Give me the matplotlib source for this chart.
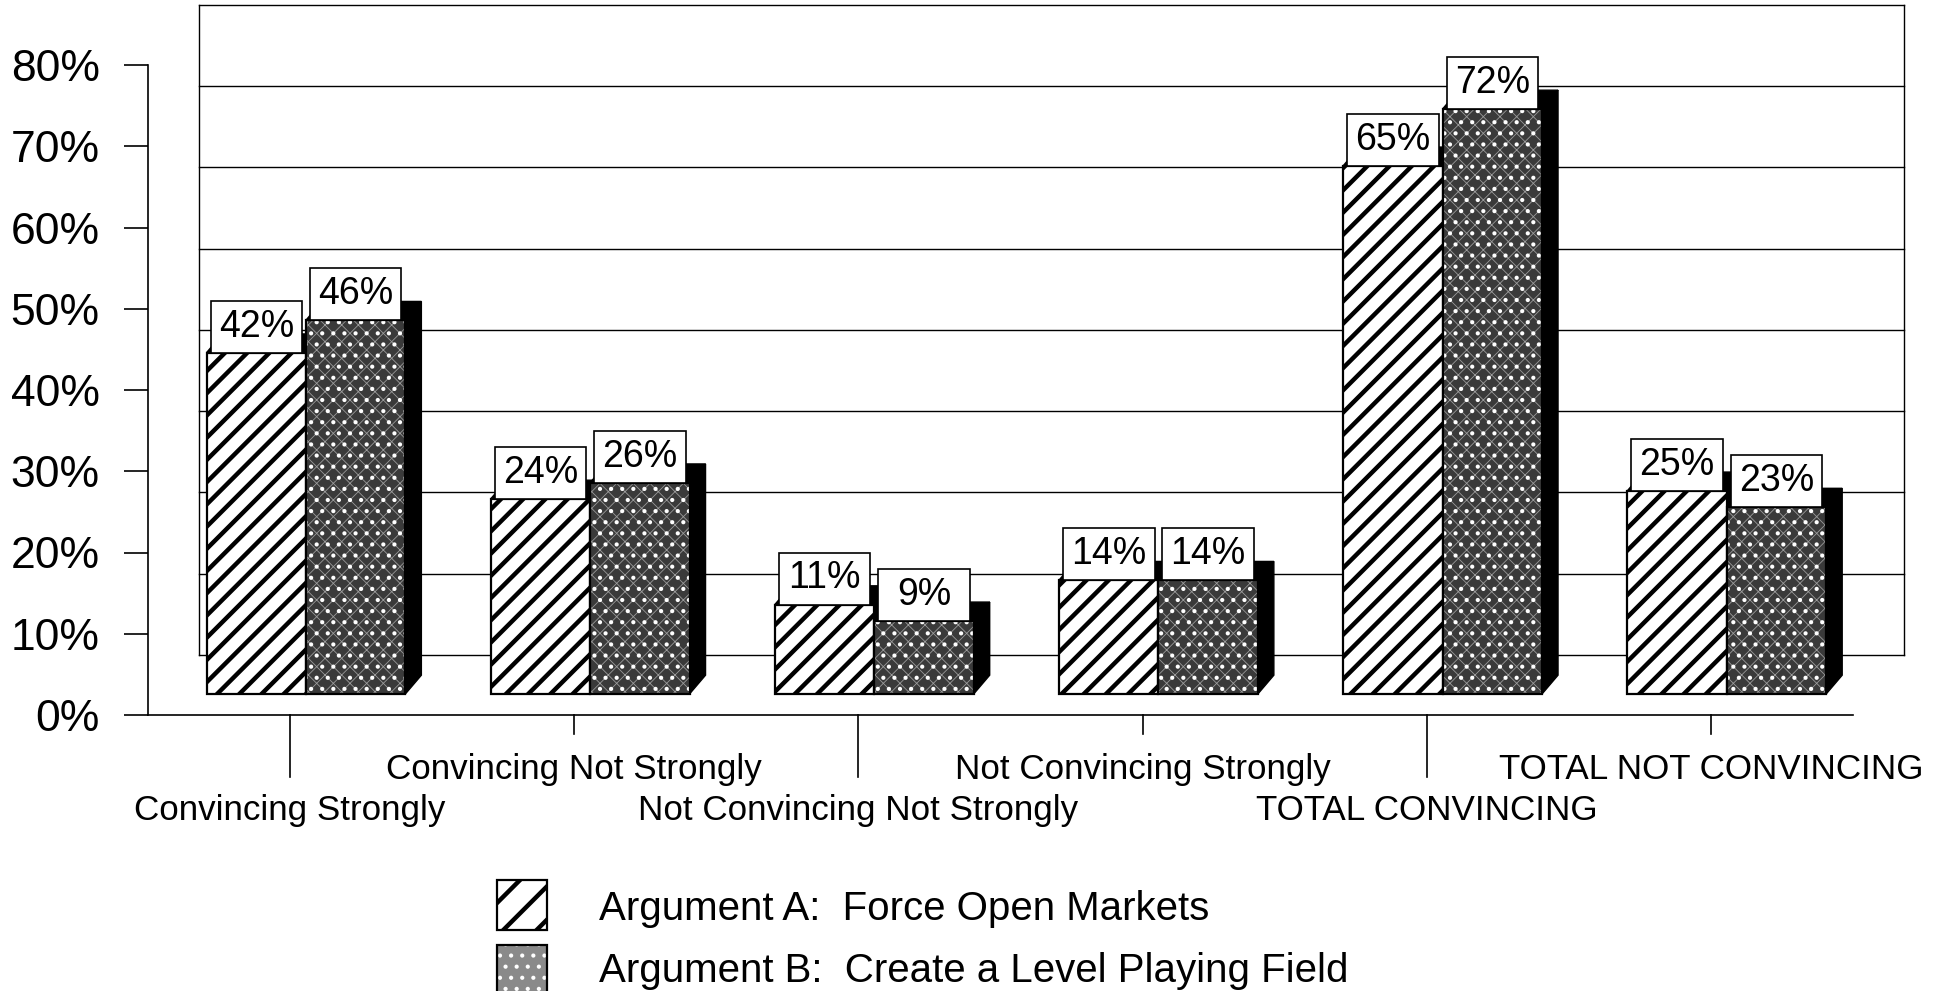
import matplotlib
matplotlib.use("Agg")
import matplotlib.pyplot as plt
from matplotlib.patches import Polygon, Rectangle

categories = ["Convincing Strongly", "Convincing Not Strongly",
              "Not Convincing Not Strongly", "Not Convincing Strongly",
              "TOTAL CONVINCING", "TOTAL NOT CONVINCING"]
arg_a = [42, 24, 11, 14, 65, 25]
arg_b = [46, 26, 9, 14, 72, 23]
series_names = ["Argument A:  Force Open Markets",
                "Argument B:  Create a Level Playing Field"]
yticks = [0, 10, 20, 30, 40, 50, 60, 70, 80]

plt.rcParams['font.family'] = ['Liberation Sans', 'DejaVu Sans']
plt.rcParams['hatch.linewidth'] = 1.6

DPI = 200
fig = plt.figure(figsize=(1950 / DPI, 991 / DPI), dpi=DPI)
ax = fig.add_axes([148 / 1950, 1 - 715 / 991, 1705 / 1950, 650 / 991])
ax.set_xlim(-0.5, 5.5)
ax.set_ylim(0, 80)

# fake 3d: back wall offset and bar offset
wall_dx, wall_dy = 0.18, 7.4
bar_dx, bar_dy = 0.056, 2.6
side_dx, side_dy = 0.056, 2.3
bw = 0.35


def thin_hatch(p, lw):
    # only newer matplotlib has a per-patch hatch width
    if hasattr(p, 'set_hatch_linewidth'):
        p.set_hatch_linewidth(lw)
    return p


# back wall
for v in yticks:
    ax.plot([-0.5 + wall_dx, 5.5 + wall_dx], [v + wall_dy, v + wall_dy],
            color='black', lw=0.5, clip_on=False, zorder=1)
for xw in [-0.5 + wall_dx, 5.5 + wall_dx]:
    ax.plot([xw, xw], [wall_dy, 80 + wall_dy], color='black', lw=0.5,
            clip_on=False, zorder=1)


def stipple(target, xy, w, h, tf=None, base='#3a3a3a'):
    kw = {} if tf is None else {'transform': tf}
    target.add_patch(Rectangle(xy, w, h, facecolor=base, edgecolor='none',
                               lw=0, clip_on=False, zorder=3, **kw))
    target.add_patch(thin_hatch(Rectangle(xy, w, h, facecolor='none',
                                          edgecolor='white', hatch='...', lw=0,
                                          clip_on=False, zorder=3.1, **kw), 0.7))
    target.add_patch(thin_hatch(Rectangle(xy, w, h, facecolor='none',
                                          edgecolor='#9a9a9a', hatch='xxxx', lw=0,
                                          clip_on=False, zorder=3.05, **kw), 0.3))
    target.add_patch(Rectangle(xy, w, h, facecolor='none', edgecolor='black',
                               lw=0.8, clip_on=False, zorder=3.2, **kw))


def draw_bar(x0, val, kind):
    base = bar_dy
    top = base + val
    x1 = x0 + bw
    # side + top faces
    ax.add_patch(Polygon([(x1, base), (x1 + side_dx, base + side_dy),
                          (x1 + side_dx, top + side_dy), (x1, top)],
                         closed=True, facecolor='black', edgecolor='black',
                         lw=0.5, clip_on=False, zorder=2))
    ax.add_patch(Polygon([(x0, top), (x0 + side_dx, top + side_dy),
                          (x1 + side_dx, top + side_dy), (x1, top)],
                         closed=True, facecolor='black', edgecolor='black',
                         lw=0.5, clip_on=False, zorder=2))
    if kind == 'a':
        ax.add_patch(Rectangle((x0, base), bw, val, facecolor='white',
                               edgecolor='black', hatch='///', lw=0.8,
                               clip_on=False, zorder=3))
    else:
        stipple(ax, (x0, base), bw, val)
    # value box
    inset = 0.014
    ax.add_patch(Rectangle((x0 + inset, top), bw - 2 * inset, 6.4,
                           facecolor='white', edgecolor='black', lw=0.6,
                           clip_on=False, zorder=4))
    ax.text(x0 + bw / 2, top + 3.2, f"{val}%", ha='center', va='center',
            fontsize=13.5, zorder=5, clip_on=False)


for i in range(len(categories)):
    draw_bar(i + bar_dx - bw, arg_a[i], 'a')
for i in range(len(categories)):
    draw_bar(i + bar_dx, arg_b[i], 'b')

# axes
for s in ['top', 'right', 'bottom']:
    ax.spines[s].set_visible(False)
ax.spines['left'].set_linewidth(0.6)
ax.spines['left'].set_bounds(0, 80)
ax.plot([-0.5, 5.5], [0, 0], color='black', lw=0.6, clip_on=False, zorder=1)
ax.set_yticks(yticks)
ax.set_yticklabels([f"{v}%" for v in yticks], fontsize=16)
ax.tick_params(axis='y', length=8.6, width=0.6, pad=8.8)
ax.set_xticks([])

# category ticks and staggered labels
for i, name in enumerate(categories):
    if i % 2 == 0:
        ax.plot([i, i], [0, -7.6], color='black', lw=0.6, clip_on=False)
        ax.text(i, -11.7, name, ha='center', va='center', fontsize=12.6,
                clip_on=False)
    else:
        ax.plot([i, i], [0, -2.3], color='black', lw=0.6, clip_on=False)
        ax.text(i, -6.65, name, ha='center', va='center', fontsize=12.6,
                clip_on=False)

# legend
W, H = 1950, 991
fig.patches.append(Rectangle((497 / W, 1 - 930 / H), 50 / W, 50 / H,
                             transform=fig.transFigure, facecolor='white',
                             edgecolor='black', hatch='//', lw=0.8))
legend_b = [Rectangle((497 / W, 1 - 995 / H), 50 / W, 50 / H,
                      transform=fig.transFigure, facecolor='#8a8a8a',
                      edgecolor='none', lw=0),
            thin_hatch(Rectangle((497 / W, 1 - 995 / H), 50 / W, 50 / H,
                                 transform=fig.transFigure, facecolor='none',
                                 edgecolor='white', hatch='...', lw=0), 0.7),
            Rectangle((497 / W, 1 - 995 / H), 50 / W, 50 / H,
                      transform=fig.transFigure, facecolor='none',
                      edgecolor='black', lw=0.8)]
fig.patches.extend(legend_b)
fig.text(599 / W, 1 - 909 / H, series_names[0], ha='left', va='center',
         fontsize=14.5)
fig.text(599 / W, 1 - 971 / H, series_names[1], ha='left', va='center',
         fontsize=14.5)

fig.savefig("out.png", dpi=DPI)
